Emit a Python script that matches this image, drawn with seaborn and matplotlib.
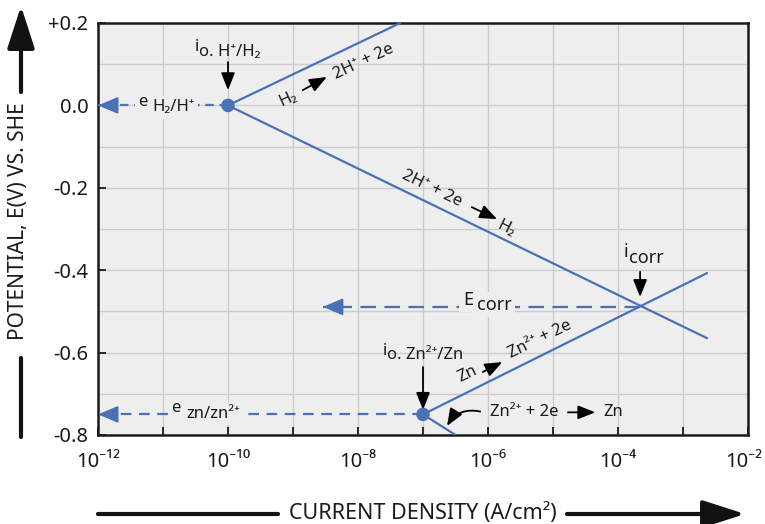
import matplotlib.pyplot as plt
import matplotlib.ticker as mticker
import matplotlib.transforms as mtransforms
import seaborn as sns
import numpy as np
import pandas as pd

sns.set_theme(style="whitegrid")
plt.rcParams['font.family'] = ['Noto Sans', 'DejaVu Sans']

BLUE = '#4a70b5'
BG = '#eeeeee'

# polarization branches: start / end current density (A/cm2) and potential (V)
branch_names = ['H2 anodic', 'H2 cathodic', 'Zn anodic', 'Zn cathodic']
branch_start_i = [1e-10, 1e-10, 1e-7, 1e-7]
branch_start_e = [0.0, 0.0, -0.75, -0.75]
branch_end_i = [10**-7.35, 10**-2.63, 10**-2.63, 10**-6.5]
branch_end_e = [0.2, -0.565, -0.407, -0.80]

# exchange current densities and equilibrium potentials (H+/H2, Zn2+/Zn)
i0_values = [1e-10, 1e-7]
e0_values = [0.0, -0.75]

# corrosion point
i_corr = 10**-3.66
e_corr = -0.489
e_corr_arrow_end = 10**-8.54

# axis ticks
x_exponents = list(range(-12, -1))
y_ticks = [0.2, 0.0, -0.2, -0.4, -0.6, -0.8]
y_tick_labels = ['+0.2', '0.0', '-0.2', '-0.4', '-0.6', '-0.8']

SUP = str.maketrans('-0123456789', '⁻⁰¹²³⁴⁵⁶⁷⁸⁹')

df = pd.DataFrame({
    'branch': branch_names * 2,
    'i': branch_start_i + branch_end_i,
    'E': branch_start_e + branch_end_e,
})

fig = plt.figure(figsize=(7.65, 5.24), dpi=100)
ax = fig.add_axes([98 / 765, 89 / 524, 650 / 765, 412 / 524])
ax.set_xscale('log')
ax.set_facecolor(BG)

sns.lineplot(data=df, x='i', y='E', units='branch', estimator=None, sort=False,
             color=BLUE, lw=1.6, ax=ax, zorder=3)
sns.scatterplot(x=i0_values, y=e0_values, s=95, color=BLUE, edgecolor='none',
                ax=ax, zorder=6)

# dashed projections to the potential axis
ax.plot([i0_values[0], 1e-12], [e0_values[0]] * 2, color=BLUE, lw=1.6,
        dashes=(3.8, 2.6), zorder=3)
ax.plot([i0_values[1], 1e-12], [e0_values[1]] * 2, color=BLUE, lw=1.6,
        dashes=(4.8, 3.4), zorder=3)
ax.plot([i_corr, e_corr_arrow_end], [e_corr] * 2, color=BLUE, lw=1.6,
        dashes=(7, 3.8), zorder=3)

head = dict(arrowstyle='-|>,head_length=0.9,head_width=0.38', color=BLUE, lw=1.2,
            mutation_scale=14, shrinkA=0, shrinkB=0)
for x_end, y_end in [(1e-12, e0_values[0]), (1e-12, e0_values[1]),
                     (e_corr_arrow_end, e_corr)]:
    ax.annotate('', xy=(x_end, y_end), xytext=(x_end * 10**0.2, y_end),
                arrowprops=head, zorder=4, annotation_clip=False)

black_head = dict(arrowstyle='-|>,head_length=0.75,head_width=0.3', color='black',
                  lw=1.3, mutation_scale=14, shrinkA=0, shrinkB=0)


def arrow(x0, y0, x1, y1, **kw):
    props = dict(black_head)
    props.update(kw)
    ax.annotate('', xy=(x1, y1), xytext=(x0, y0), arrowprops=props, zorder=5)


def label(x, y, s, size=12, ha='center', rot=0, box=False, z=5):
    kw = {}
    if box:
        kw['bbox'] = dict(boxstyle='square,pad=0.2', fc=BG, ec='none')
    ax.text(x, y, s, fontsize=size, ha=ha, va='center', rotation=rot,
            rotation_mode='anchor', color='#1a1a1a', zorder=z, **kw)


# H+/H2 exchange current
label(10**-10.45, 0.141, 'i', ha='right')
label(10**-10.45, 0.130, 'o. H⁺/H₂', ha='left')
arrow(1e-10, 0.105, 1e-10, 0.037)

# equilibrium H2/H+
label(10**-11.31, 0.008, 'e', box=True, z=6)
label(10**-11.17, -0.005, 'H₂/H⁺', ha='left', box=True)

# H2 oxidation branch
label(10**-9.08, 0.0155, 'H₂', rot=25)
arrow(10**-8.85, 0.037, 10**-8.48, 0.069)
label(10**-7.91, 0.105, '2H⁺ + 2e', rot=25)

# H+ reduction branch
label(10**-6.86, -0.203, '2H⁺ + 2e', rot=-26)
arrow(10**-6.25, -0.247, 10**-5.86, -0.276)
label(10**-5.72, -0.298, 'H₂', rot=-26)

# corrosion current and potential
label(10**-3.85, -0.356, 'i', size=13, ha='right')
label(10**-3.83, -0.370, 'corr', size=13, ha='left')
arrow(i_corr, -0.404, i_corr, -0.465)
label(10**-6.31, -0.472, 'E', size=13, box=True, z=6)
label(10**-6.17, -0.484, 'corr', size=13, ha='left', box=True)

# Zn2+/Zn exchange current
label(10**-7.554, -0.596, 'i', ha='right')
label(10**-7.554, -0.605, 'o. Zn²⁺/Zn', ha='left')
arrow(1e-7, -0.635, 1e-7, -0.739)

# Zn oxidation branch
label(10**-6.31, -0.652, 'Zn', rot=26)
arrow(10**-6.08, -0.647, 10**-5.78, -0.623)
label(10**-5.2, -0.569, 'Zn²⁺ + 2e', rot=26)

# Zn2+ reduction branch
label(10**-5.97, -0.745, 'Zn²⁺ + 2e', ha='left')
arrow(10**-4.77, -0.745, 10**-4.35, -0.745)
label(10**-4.23, -0.745, 'Zn', ha='left')
arrow(10**-6.12, -0.743, 10**-6.63, -0.778, connectionstyle='arc3,rad=0.35')

# equilibrium zn/zn2+
label(10**-10.8, -0.735, 'e', box=True, z=6)
label(10**-10.64, -0.749, 'zn/zn²⁺', ha='left', box=True)

# axes, ticks and grid
ax.set_xlim(1e-12, 1e-2)
ax.set_ylim(-0.8, 0.2)
ax.set_xticks([10.0**k for k in x_exponents])
ax.set_xticklabels([('10' + str(k).translate(SUP)) if k % 2 == 0 else ''
                    for k in x_exponents])
ax.xaxis.set_minor_locator(mticker.NullLocator())
ax.set_yticks(y_ticks)
ax.set_yticklabels(y_tick_labels)
ax.yaxis.set_minor_locator(mticker.MultipleLocator(0.1))
ax.grid(True, which='major', color='#cccccc', lw=1)
ax.grid(True, which='minor', axis='y', color='#cccccc', lw=1)
ax.set_axisbelow(True)
ax.tick_params(axis='both', which='major', direction='in', length=6, width=1.3,
               color='#1a1a1a', labelsize=14.5, labelcolor='#1a1a1a')
ax.tick_params(axis='x', pad=12)
ax.tick_params(axis='y', pad=7, left=True)
ax.tick_params(axis='x', bottom=True)
ax.tick_params(which='minor', length=0)
for side in ['left', 'bottom', 'top', 'right']:
    ax.spines[side].set_visible(True)
    ax.spines[side].set_color('#1a1a1a')
    ax.spines[side].set_linewidth(1.8)
ax.set_xlabel('')
ax.set_ylabel('')

# keep the last decade label inside the canvas
last = ax.get_xticklabels()[-1]
last.set_transform(last.get_transform() +
                   mtransforms.ScaledTranslation(-4 / 100, 0, fig.dpi_scale_trans))

# outer axis titles with arrows
fig.text(18.5 / 765, 1 - 221 / 524, 'POTENTIAL, E(V) VS. SHE', rotation=90,
         ha='center', va='center', fontsize=15, color='#1a1a1a')
fig.text(423 / 765, 1 - 513 / 524, 'CURRENT DENSITY (A/cm²)', ha='center',
         va='center', fontsize=15.5, color='#1a1a1a')
fig_arrow = dict(arrowstyle='-|>,head_length=1.3,head_width=0.42', color='#111111',
                 lw=3, mutation_scale=20, shrinkA=0, shrinkB=0)
ax.annotate('', xy=(21 / 765, 1 - 6 / 524), xytext=(21 / 765, 1 - 92 / 524),
            xycoords='figure fraction', arrowprops=fig_arrow, annotation_clip=False)
ax.annotate('', xy=(21 / 765, 1 - 358 / 524), xytext=(21 / 765, 1 - 437 / 524),
            xycoords='figure fraction',
            arrowprops=dict(arrowstyle='-', color='#111111', lw=3, shrinkA=0, shrinkB=0),
            annotation_clip=False)
ax.annotate('', xy=(278 / 765, 1 - 514 / 524), xytext=(98 / 765, 1 - 514 / 524),
            xycoords='figure fraction',
            arrowprops=dict(arrowstyle='-', color='#111111', lw=3, shrinkA=0, shrinkB=0),
            annotation_clip=False)
ax.annotate('', xy=(745 / 765, 1 - 514 / 524), xytext=(567 / 765, 1 - 514 / 524),
            xycoords='figure fraction', arrowprops=fig_arrow, annotation_clip=False)

fig.savefig('out.png', dpi=100)
